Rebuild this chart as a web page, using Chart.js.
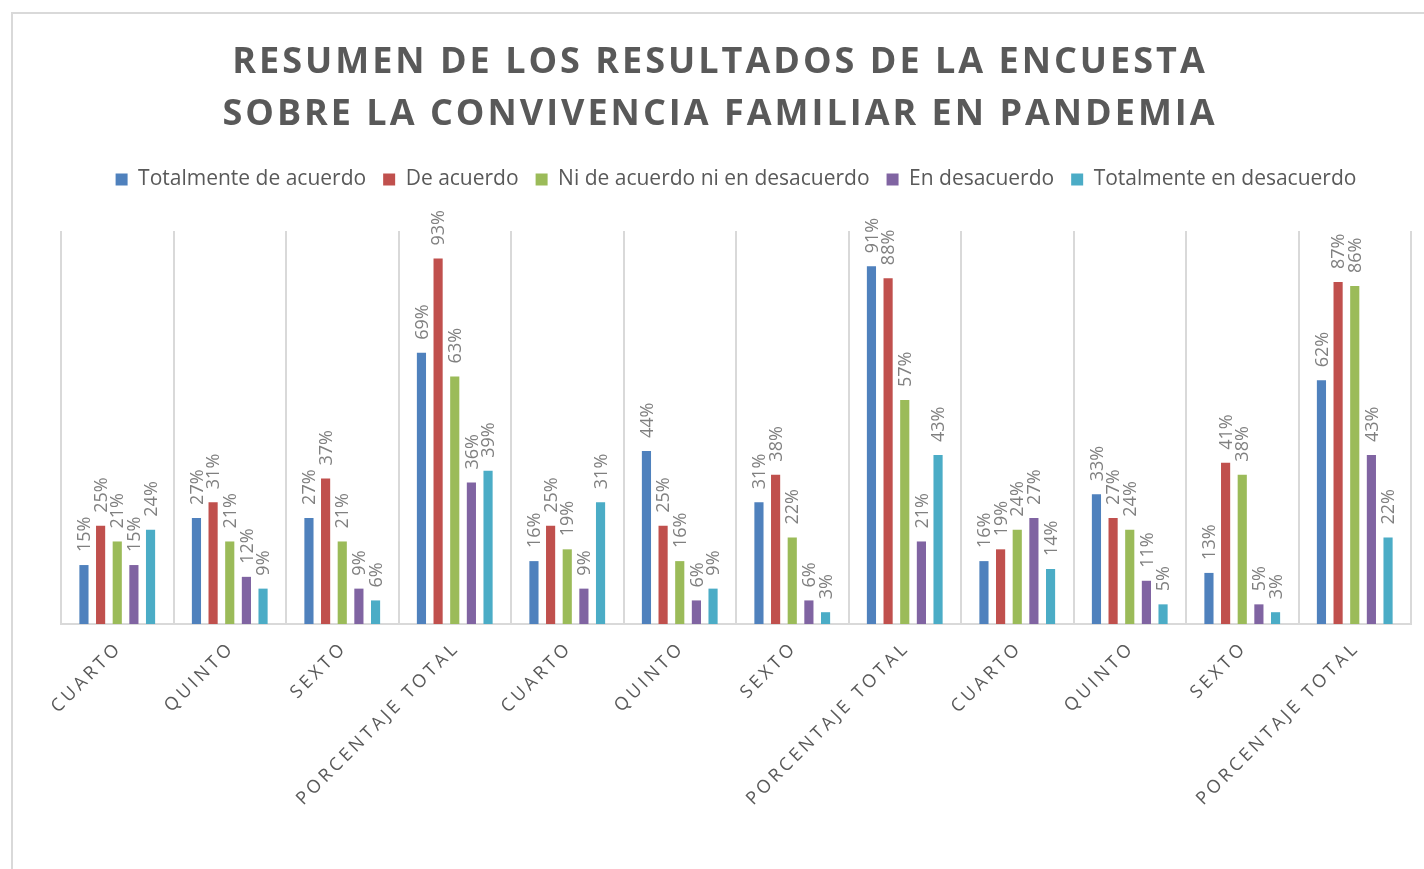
<!DOCTYPE html>
<html lang="es">
<head>
<meta charset="utf-8">
<title>Convivencia familiar en pandemia</title>
<script src="https://cdn.jsdelivr.net/npm/chart.js@4.4.1/dist/chart.umd.min.js"></script>
<style>
  html, body { margin: 0; padding: 0; background: #fff; overflow: hidden; }
  #frame {
    position: absolute; left: 11px; top: 12px;
    width: 1420px; height: 860px;
    border-left: 2px solid #d9d9d9; border-top: 2px solid #d9d9d9;
  }
  #chart { display: block; }
</style>
</head>
<body>
<div id="frame"><canvas id="chart" width="1420" height="860"></canvas></div>
<script>
const titleLines = ["RESUMEN DE LOS RESULTADOS DE LA ENCUESTA", "SOBRE LA CONVIVENCIA FAMILIAR EN PANDEMIA"];

const categories = ["CUARTO", "QUINTO", "SEXTO", "PORCENTAJE TOTAL",
                    "CUARTO", "QUINTO", "SEXTO", "PORCENTAJE TOTAL",
                    "CUARTO", "QUINTO", "SEXTO", "PORCENTAJE TOTAL"];

const seriesNames = ["Totalmente de acuerdo", "De acuerdo", "Ni de acuerdo ni en desacuerdo",
                     "En desacuerdo", "Totalmente en desacuerdo"];

const totalmenteAcuerdo    = [15, 27, 27, 69, 16, 44, 31, 91, 16, 33, 13, 62];
const deAcuerdo            = [25, 31, 37, 93, 25, 25, 38, 88, 19, 27, 41, 87];
const niAcuerdo            = [21, 21, 21, 63, 19, 16, 22, 57, 24, 24, 38, 86];
const enDesacuerdo         = [15, 12,  9, 36,  9,  6,  6, 21, 27, 11,  5, 43];
const totalmenteDesacuerdo = [24,  9,  6, 39, 31,  9,  3, 43, 14,  5,  3, 22];

const colors = ["#4f81bd", "#c0504d", "#9bbb59", "#8064a2", "#4bacc6"];
const textGray = "#595959";

const allSeries = [totalmenteAcuerdo, deAcuerdo, niAcuerdo, enDesacuerdo, totalmenteDesacuerdo];

// title with letter spacing (the title plugin can't do it)
const spacedTitle = {
  id: "spacedTitle",
  afterDraw(chart) {
    const ctx = chart.ctx;
    ctx.save();
    ctx.fillStyle = textGray;
    ctx.font = "bold 36px 'Open Sans'";
    ctx.letterSpacing = "3px";
    ctx.textAlign = "center";
    ctx.textBaseline = "middle";
    ctx.fillText(titleLines[0], 707, 49);
    ctx.fillText(titleLines[1], 707, 101);
    ctx.restore();
  }
};

// vertical value labels above each bar
const barLabels = {
  id: "barLabels",
  afterDatasetsDraw(chart) {
    const ctx = chart.ctx;
    ctx.save();
    ctx.fillStyle = "#808080";
    ctx.font = "18px 'Open Sans'";
    ctx.textAlign = "left";
    ctx.textBaseline = "middle";
    chart.data.datasets.forEach((ds, i) => {
      chart.getDatasetMeta(i).data.forEach((bar, j) => {
        ctx.save();
        ctx.translate(bar.x + 1, bar.y - 13);
        ctx.rotate(-Math.PI / 2);
        ctx.fillText(ds.data[j] + "%", 0, 0);
        ctx.restore();
      });
    });
    ctx.restore();
  }
};

// rotated category labels with letter spacing
const spacedTicks = {
  id: "spacedTicks",
  afterDraw(chart) {
    const ctx = chart.ctx;
    const x = chart.scales.x;
    ctx.save();
    ctx.fillStyle = textGray;
    ctx.font = "18px 'Open Sans'";
    ctx.letterSpacing = "3.5px";
    ctx.textAlign = "right";
    ctx.textBaseline = "middle";
    categories.forEach((c, i) => {
      ctx.save();
      ctx.translate(x.getPixelForTick(i) + 2, chart.chartArea.bottom + 21);
      ctx.rotate(-Math.PI / 4);
      ctx.fillText(c, 0, 0);
      ctx.restore();
    });
    ctx.restore();
  }
};

// extra room between legend and plot
const legendGap = {
  id: "legendGap",
  beforeInit(chart) {
    const fit = chart.legend.fit;
    chart.legend.fit = function () { fit.call(this); this.height += 31; };
  }
};

new Chart(document.getElementById("chart"), {
  type: "bar",
  data: {
    labels: categories,
    datasets: allSeries.map((d, i) => ({
      label: seriesNames[i],
      data: d,
      backgroundColor: colors[i],
      borderWidth: 0,
      categoryPercentage: 0.74,
      barPercentage: 0.55
    }))
  },
  options: {
    responsive: false,
    animation: false,
    layout: { padding: { top: 138, left: 48, right: 22, bottom: 250 } },
    plugins: {
      title: { display: false },
      tooltip: { enabled: false },
      legend: {
        position: "top",
        labels: {
          boxWidth: 12, boxHeight: 12, padding: 17,
          color: textGray,
          font: { family: "'Open Sans'", size: 21 }
        }
      }
    },
    scales: {
      x: {
        grid: { color: "#d9d9d9", lineWidth: 2, drawTicks: false, offset: true },
        border: { color: "#d9d9d9", width: 2 },
        ticks: { display: false }
      },
      y: {
        display: false,
        min: 0, max: 100
      }
    }
  },
  plugins: [spacedTitle, barLabels, spacedTicks, legendGap]
});
</script>
</body>
</html>
